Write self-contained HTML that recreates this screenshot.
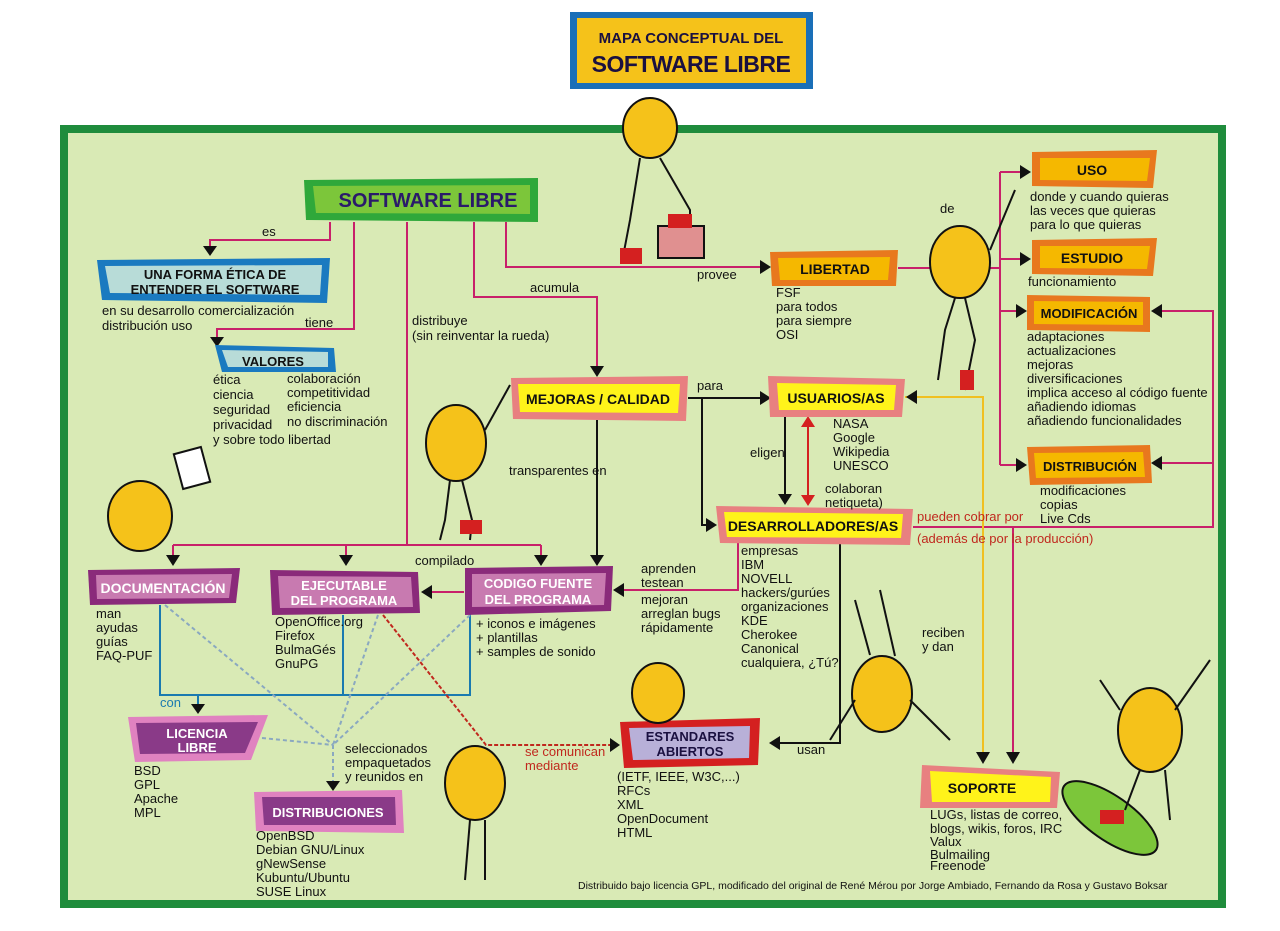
<!DOCTYPE html>
<html><head><meta charset="utf-8"><style>
html,body{margin:0;padding:0;background:#fff;width:1280px;height:931px;overflow:hidden}
svg{display:block}
.t{font-family:"Liberation Sans Narrow","Liberation Sans",sans-serif;font-size:13px;fill:#111}
.b{font-family:"Liberation Sans",sans-serif;font-weight:bold;font-size:14px;fill:#111;text-anchor:middle}
.r{fill:#c0281e}
</style></head><body>
<svg width="1280" height="931" viewBox="0 0 1280 931" xmlns="http://www.w3.org/2000/svg">
<rect x="64" y="129" width="1158" height="775" fill="#d9eab5" stroke="#1f8c3c" stroke-width="8"/>
<rect x="570" y="12" width="243" height="77" fill="#1a6fb8"/>
<rect x="577" y="18" width="229" height="65" fill="#f5c21a"/>
<text class="b" x="691" y="43" style="font-size:15px;fill:#1a1040">MAPA CONCEPTUAL DEL</text>
<text class="b" x="691" y="72" style="font-size:23px;fill:#1a1040;letter-spacing:-0.5px">SOFTWARE LIBRE</text>

<g fill="none" stroke-width="2">
<g stroke="#c8206a">
<polyline points="330,222 330,240 210,240 210,248"/>
<polyline points="354,222 354,329 217,329 217,338"/>
<polyline points="407,222 407,545"/>
<polyline points="173,545 541,545"/>
<polyline points="173,545 173,556"/><polyline points="346,545 346,556"/><polyline points="541,545 541,556"/>
<polyline points="474,222 474,297 597,297 597,368"/>
<polyline points="506,222 506,267 762,267"/>
<polyline points="898,268 1000,268"/>
<polyline points="1000,172 1000,465"/>
<polyline points="1000,172 1022,172"/><polyline points="1000,259 1022,259"/><polyline points="1000,311 1018,311"/><polyline points="1000,465 1018,465"/>
<polyline points="913,527 1213,527 1213,311 1160,311"/>
<polyline points="1213,463 1160,463"/>
<polyline points="738,543 738,590 622,590"/>
<polyline points="464,592 430,592"/>
<polyline points="1013,527 1013,752"/>
</g>
<g stroke="#111">
<polyline points="597,420 597,556"/>
<polyline points="688,398 762,398"/>
<polyline points="702,398 702,525 708,525"/>
<polyline points="785,417 785,495"/>
<polyline points="840,543 840,743 778,743"/>
</g>
<polyline points="808,425 808,497" stroke="#d42020"/>
<polyline points="905,397 983,397 983,752" stroke="#f0c020"/>
<g stroke="#1a7ab0">
<polyline points="160,605 160,695 470,695 470,614"/>
<polyline points="343,615 343,695"/>
<polyline points="198,695 198,705"/>
</g>
<g stroke="#8aa8c0" stroke-dasharray="4,3">
<line x1="165" y1="605" x2="333" y2="745"/>
<line x1="378" y1="615" x2="333" y2="745"/>
<line x1="470" y1="615" x2="333" y2="745"/>
<line x1="262" y1="738" x2="333" y2="745"/>
<line x1="333" y1="745" x2="333" y2="782"/>
</g>
<polyline points="383,615 486,745 612,745" stroke="#c0281e" stroke-dasharray="4,2"/>
</g>
<g fill="#111">
<polygon points="203,246 217,246 210,256"/>
<polygon points="210,337 224,337 217,347"/>
<polygon points="166,555 180,555 173,566"/><polygon points="339,555 353,555 346,566"/><polygon points="534,555 548,555 541,566"/>
<polygon points="590,366 604,366 597,377"/><polygon points="590,555 604,555 597,566"/>
<polygon points="760,260 760,274 771,267"/>
<polygon points="760,391 760,405 771,398"/>
<polygon points="706,518 706,532 717,525"/>
<polygon points="778,494 792,494 785,505"/>
<polygon points="1020,165 1020,179 1031,172"/><polygon points="1020,252 1020,266 1031,259"/>
<polygon points="1016,304 1016,318 1027,311"/><polygon points="1016,458 1016,472 1027,465"/>
<polygon points="1162,304 1162,318 1151,311"/><polygon points="1162,456 1162,470 1151,463"/>
<polygon points="624,583 624,597 613,590"/><polygon points="432,585 432,599 421,592"/>
<polygon points="917,390 917,404 906,397"/>
<polygon points="780,736 780,750 769,743"/>
<polygon points="976,752 990,752 983,764"/><polygon points="1006,752 1020,752 1013,764"/>
<polygon points="191,704 205,704 198,714"/>
<polygon points="326,781 340,781 333,791"/>
<polygon points="610,738 610,752 620,745"/>
</g>
<g fill="#d42020"><polygon points="801,427 815,427 808,416"/><polygon points="801,495 815,495 808,506"/></g>

<polygon points="304,180 538,178 538,222 306,220" fill="#2fa83a"/><polygon points="313,186 530,185 530,214 316,213" fill="#7cc63a"/>
<text class="b" x="428" y="207" style="font-size:20px;fill:#2a1a6a">SOFTWARE LIBRE</text>
<polygon points="97,260 330,258 327,303 102,300" fill="#1a7ac0"/><polygon points="105,266 322,265 320,295 110,293" fill="#b8dcd8"/>
<text class="b" x="215" y="279" style="font-size:13px">UNA FORMA ÉTICA DE</text><text class="b" x="215" y="294" style="font-size:13px">ENTENDER EL SOFTWARE</text>
<polygon points="215,345 334,348 336,372 222,372" fill="#1a7ac0"/><polygon points="222,350 328,352 328,367 228,367" fill="#b8dcd8"/>
<text class="b" x="273" y="366" style="font-size:13px">VALORES</text>
<polygon points="511,378 688,376 686,421 513,419" fill="#e88080"/><polygon points="518,384 680,384 678,413 520,412" fill="#fff31a"/>
<text class="b" x="598" y="404" style="font-size:14px">MEJORAS / CALIDAD</text>
<polygon points="770,252 898,250 896,286 772,286" fill="#e8781e"/><polygon points="778,258 890,257 888,280 780,280" fill="#f5b800"/>
<text class="b" x="835" y="274" style="font-size:14px">LIBERTAD</text>
<polygon points="1032,152 1157,150 1153,188 1032,186" fill="#e8781e"/><polygon points="1040,158 1150,158 1147,181 1040,180" fill="#f5b800"/>
<text class="b" x="1092" y="175">USO</text>
<polygon points="1032,240 1157,238 1153,276 1032,274" fill="#e8781e"/><polygon points="1040,246 1150,246 1147,269 1040,268" fill="#f5b800"/>
<text class="b" x="1092" y="263">ESTUDIO</text>
<polygon points="1027,295 1150,297 1150,332 1027,330" fill="#e8781e"/><polygon points="1034,301 1143,302 1143,325 1034,324" fill="#f5b800"/>
<text class="b" x="1089" y="318" style="font-size:13px">MODIFICACIÓN</text>
<polygon points="1027,447 1150,445 1152,483 1030,485" fill="#e8781e"/><polygon points="1034,453 1143,452 1145,477 1036,478" fill="#f5b800"/>
<text class="b" x="1090" y="471" style="font-size:13px">DISTRIBUCIÓN</text>
<polygon points="768,376 905,379 902,417 770,417" fill="#e88080"/><polygon points="777,383 896,385 894,410 779,410" fill="#fff31a"/>
<text class="b" x="836" y="403" style="font-size:14px">USUARIOS/AS</text>
<polygon points="716,506 913,509 910,545 720,543" fill="#e88080"/><polygon points="724,512 903,514 901,538 727,537" fill="#fff31a"/>
<text class="b" x="813" y="531" style="font-size:14px">DESARROLLADORES/AS</text>
<polygon points="88,570 240,568 236,603 90,605" fill="#8a2a7a"/><polygon points="96,575 232,574 229,598 97,599" fill="#c87ab0"/>
<text class="b" x="163" y="593" style="fill:#fff;font-size:14px">DOCUMENTACIÓN</text>
<polygon points="270,570 418,572 420,613 272,615" fill="#8a2a7a"/><polygon points="278,576 411,577 413,607 280,608" fill="#c87ab0"/>
<text class="b" x="344" y="590" style="fill:#fff;font-size:13px">EJECUTABLE</text><text class="b" x="344" y="605" style="fill:#fff;font-size:13px">DEL PROGRAMA</text>
<polygon points="465,568 613,566 611,611 465,615" fill="#8a2a7a"/><polygon points="472,574 606,573 604,605 472,607" fill="#c87ab0"/>
<text class="b" x="538" y="588" style="fill:#fff;font-size:13px">CODIGO FUENTE</text><text class="b" x="538" y="604" style="fill:#fff;font-size:13px">DEL PROGRAMA</text>
<polygon points="128,717 268,715 251,760 135,762" fill="#e082c0"/><polygon points="136,723 258,722 245,753 140,754" fill="#8a3a88"/>
<text class="b" x="197" y="738" style="fill:#fff;font-size:13px">LICENCIA</text><text class="b" x="197" y="752" style="fill:#fff;font-size:13px">LIBRE</text>
<polygon points="254,792 402,790 404,833 256,831" fill="#e082c0"/><polygon points="262,797 395,797 396,825 264,825" fill="#8a3a88"/>
<text class="b" x="328" y="817" style="fill:#fff;font-size:13px">DISTRIBUCIONES</text>
<polygon points="620,722 760,718 758,765 624,768" fill="#d42020"/><polygon points="629,728 750,726 749,758 633,760" fill="#b8b0d8"/>
<text class="b" x="690" y="741" style="font-size:13px;fill:#1a1040">ESTANDARES</text><text class="b" x="690" y="756" style="font-size:13px;fill:#1a1040">ABIERTOS</text>
<polygon points="922,765 1060,772 1057,808 920,808" fill="#e88080"/><polygon points="930,771 1051,777 1050,802 932,802" fill="#fff31a"/>
<text class="b" x="982" y="793" style="font-size:14px">SOPORTE</text>

<g stroke="#111" stroke-width="2">
<rect x="658" y="226" width="46" height="32" fill="#e09090"/>
<g fill="#f5c21a">
<ellipse cx="650" cy="128" rx="27" ry="30"/>
<ellipse cx="960" cy="262" rx="30" ry="36"/>
<ellipse cx="456" cy="443" rx="30" ry="38"/>
<ellipse cx="140" cy="516" rx="32" ry="35"/>
<ellipse cx="475" cy="783" rx="30" ry="37"/>
<ellipse cx="658" cy="693" rx="26" ry="30"/>
<ellipse cx="882" cy="694" rx="30" ry="38"/>
<ellipse cx="1150" cy="730" rx="32" ry="42"/>
</g>
<ellipse cx="1110" cy="818" rx="22" ry="56" transform="rotate(-55 1110 818)" fill="#7cc63a"/>
<rect x="178" y="450" width="28" height="36" fill="#fff" transform="rotate(-15 192 468)"/>
<g fill="none">
<polyline points="640,158 630,220 622,262"/><polyline points="660,158 690,210 690,226"/>
<polyline points="955,298 945,330 938,380"/><polyline points="965,298 975,340 965,390"/>
<polyline points="990,250 1015,190"/>
<polyline points="450,480 445,520 440,540"/><polyline points="462,480 472,520 470,540"/><polyline points="485,430 510,385"/>
<polyline points="470,820 465,880"/><polyline points="485,820 485,880"/>
<polyline points="870,655 855,600"/><polyline points="895,656 880,590"/><polyline points="910,700 950,740"/><polyline points="855,700 830,740"/>
<polyline points="1140,770 1125,810"/><polyline points="1165,770 1170,820"/><polyline points="1175,710 1210,660"/><polyline points="1120,710 1100,680"/>
</g></g>
<g fill="#d42020"><rect x="620" y="248" width="22" height="16"/><rect x="668" y="214" width="24" height="14"/><rect x="960" y="370" width="14" height="20"/><rect x="460" y="520" width="22" height="14"/><rect x="1100" y="810" width="24" height="14"/></g>

<text class="t" x="262" y="236">es</text>
<text class="t" x="305" y="327">tiene</text>
<text class="t" x="102" y="315">en su desarrollo comercialización</text><text class="t" x="102" y="330">distribución uso</text>
<g class="t"><text x="213" y="384">ética</text><text x="213" y="399">ciencia</text><text x="213" y="414">seguridad</text><text x="213" y="429">privacidad</text><text x="213" y="444">y sobre todo libertad</text>
<text x="287" y="383">colaboración</text><text x="287" y="397">competitividad</text><text x="287" y="411">eficiencia</text><text x="287" y="426">no discriminación</text></g>
<text class="t" x="412" y="325">distribuye</text><text class="t" x="412" y="340">(sin reinventar la rueda)</text>
<text class="t" x="530" y="292">acumula</text>
<text class="t" x="697" y="279">provee</text>
<text class="t" x="509" y="475">transparentes en</text>
<text class="t" x="415" y="565">compilado</text>
<text class="t" x="697" y="390">para</text>
<text class="t" x="940" y="213">de</text>
<g class="t"><text x="776" y="297">FSF</text><text x="776" y="311">para todos</text><text x="776" y="325">para siempre</text><text x="776" y="339">OSI</text></g>
<g class="t"><text x="1030" y="201">donde y cuando quieras</text><text x="1030" y="215">las veces que quieras</text><text x="1030" y="229">para lo que quieras</text></g>
<text class="t" x="1028" y="286">funcionamiento</text>
<g class="t"><text x="1027" y="341">adaptaciones</text><text x="1027" y="355">actualizaciones</text><text x="1027" y="369">mejoras</text><text x="1027" y="383">diversificaciones</text><text x="1027" y="397">implica acceso al código fuente</text><text x="1027" y="411">añadiendo idiomas</text><text x="1027" y="425">añadiendo funcionalidades</text></g>
<g class="t"><text x="1040" y="495">modificaciones</text><text x="1040" y="509">copias</text><text x="1040" y="523">Live Cds</text></g>
<g class="t"><text x="833" y="428">NASA</text><text x="833" y="442">Google</text><text x="833" y="456">Wikipedia</text><text x="833" y="470">UNESCO</text></g>
<text class="t" x="750" y="457">eligen</text>
<text class="t" x="825" y="493">colaboran</text><text class="t" x="825" y="507">netiqueta)</text>
<text class="t r" x="917" y="521">pueden cobrar por</text><text class="t r" x="917" y="543">(además de por la producción)</text>
<g class="t"><text x="741" y="555">empresas</text><text x="741" y="569">IBM</text><text x="741" y="583">NOVELL</text><text x="741" y="597">hackers/gurúes</text><text x="741" y="611">organizaciones</text><text x="741" y="625">KDE</text><text x="741" y="639">Cherokee</text><text x="741" y="653">Canonical</text><text x="741" y="667">cualquiera, ¿Tú?</text></g>
<g class="t"><text x="641" y="573">aprenden</text><text x="641" y="587">testean</text><text x="641" y="604">mejoran</text><text x="641" y="618">arreglan bugs</text><text x="641" y="632">rápidamente</text></g>
<text class="t" x="922" y="637">reciben</text><text class="t" x="922" y="651">y dan</text>
<text class="t" x="797" y="754">usan</text>
<g class="t"><text x="96" y="618">man</text><text x="96" y="632">ayudas</text><text x="96" y="646">guías</text><text x="96" y="660">FAQ-PUF</text></g>
<g class="t"><text x="275" y="626">OpenOffice.org</text><text x="275" y="640">Firefox</text><text x="275" y="654">BulmaGés</text><text x="275" y="668">GnuPG</text></g>
<g class="t"><text x="476" y="628">+ iconos e imágenes</text><text x="476" y="642">+ plantillas</text><text x="476" y="656">+ samples de sonido</text></g>
<text class="t" x="160" y="707" style="fill:#1a7ab0">con</text>
<g class="t"><text x="134" y="775">BSD</text><text x="134" y="789">GPL</text><text x="134" y="803">Apache</text><text x="134" y="817">MPL</text></g>
<g class="t"><text x="345" y="753">seleccionados</text><text x="345" y="767">empaquetados</text><text x="345" y="781">y reunidos en</text></g>
<text class="t r" x="525" y="756">se comunican</text><text class="t r" x="525" y="770">mediante</text>
<g class="t"><text x="256" y="840">OpenBSD</text><text x="256" y="854">Debian GNU/Linux</text><text x="256" y="868">gNewSense</text><text x="256" y="882">Kubuntu/Ubuntu</text><text x="256" y="896">SUSE Linux</text></g>
<g class="t"><text x="617" y="781">(IETF, IEEE, W3C,...)</text><text x="617" y="795">RFCs</text><text x="617" y="809">XML</text><text x="617" y="823">OpenDocument</text><text x="617" y="837">HTML</text></g>
<g class="t"><text x="930" y="819">LUGs, listas de correo,</text><text x="930" y="833">blogs, wikis, foros, IRC</text><text x="930" y="846">Valux</text><text x="930" y="859">Bulmailing</text><text x="930" y="870">Freenode</text></g>
<text class="t" x="578" y="889" style="font-size:10.5px">Distribuido bajo licencia GPL, modificado del original de René Mérou por Jorge Ambiado, Fernando da Rosa y Gustavo Boksar</text>
</svg>
</body></html>
